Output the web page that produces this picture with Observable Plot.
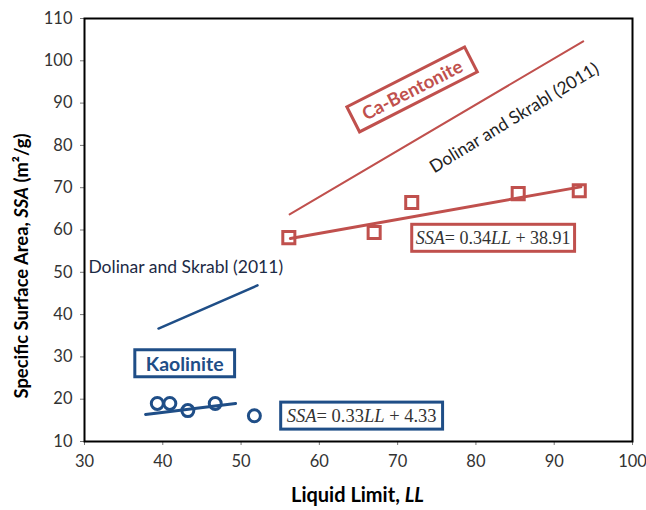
<!DOCTYPE html>
<html>
<head>
<meta charset="utf-8">
<script src="https://cdn.jsdelivr.net/npm/d3@7"></script>
<script src="https://cdn.jsdelivr.net/npm/@observablehq/plot@0.6"></script>
<style>
  body { margin: 0; background: #fff; }
  #chart { width: 646px; height: 510px; }
</style>
</head>
<body>
<div id="chart"></div>
<script>
// ---- data ----
const xTicks = [30, 40, 50, 60, 70, 80, 90, 100];
const yTicks = [10, 20, 30, 40, 50, 60, 70, 80, 90, 100, 110];

// Ca-Bentonite measurements
const caLL  = [56.1, 67.0, 71.8, 85.4, 93.2];
const caSSA = [58.2, 59.4, 66.5, 68.6, 69.3];
// Kaolinite measurements
const kaLL  = [39.3, 40.9, 43.2, 46.7, 51.7];
const kaSSA = [19.0, 19.0, 17.3, 19.0, 16.1];

// fitted lines (end points)
const caFitLL  = [56.3, 93.4];
const caFitSSA = [58.0, 70.2];
const kaFitLL  = [37.8, 49.3];
const kaFitSSA = [16.4, 19.0];

// Dolinar and Skrabl (2011) lines
const dolCaLL  = [56.2, 93.7];
const dolCaSSA = [63.7, 104.6];
const dolKaLL  = [39.45, 52.1];
const dolKaSSA = [36.7, 46.9];

// annotation texts
const labelCa   = "Ca-Bentonite";
const labelKa   = "Kaolinite";
const labelDol  = "Dolinar and Skrabl (2011)";
const eqCa      = "SSA= 0.34LL + 38.91";
const eqKa      = "SSA= 0.33LL + 4.33";

const RED = "#c0504d";
const BLUE = "#1f4e87";

const pts = (xs, ys) => xs.map((x, i) => ({LL: x, SSA: ys[i]}));

const W = 646, H = 510, mL = 84, mR = 14, mT = 18, mB = 69;

const chart = Plot.plot({
  width: W, height: H,
  marginLeft: mL, marginRight: mR, marginTop: mT, marginBottom: mB,
  style: {fontFamily: "Lato, sans-serif", fontSize: "16.5px", color: "#333", background: "#fff"},
  x: {domain: [30, 100], ticks: xTicks, label: null, tickSize: 4, tickPadding: 10},
  y: {domain: [10, 110], ticks: yTicks, label: null, tickSize: 4, tickPadding: 8},
  marks: [
    Plot.line(pts(dolCaLL, dolCaSSA), {x: "LL", y: "SSA", stroke: RED, strokeWidth: 2}),
    Plot.line(pts(dolKaLL, dolKaSSA), {x: "LL", y: "SSA", stroke: BLUE, strokeWidth: 2.5}),
    Plot.line(pts(caFitLL, caFitSSA), {x: "LL", y: "SSA", stroke: RED, strokeWidth: 3}),
    Plot.line(pts(kaFitLL, kaFitSSA), {x: "LL", y: "SSA", stroke: BLUE, strokeWidth: 3}),
    Plot.dot(pts(caLL, caSSA), {x: "LL", y: "SSA", symbol: "square", r: 6.8, stroke: RED, strokeWidth: 3, fill: "none"}),
    Plot.dot(pts(kaLL, kaSSA), {x: "LL", y: "SSA", symbol: "circle", r: 6, stroke: BLUE, strokeWidth: 3, fill: "none"}),
    Plot.text([labelCa], {x: () => 71.9, y: () => 93.0, text: d => d, rotate: -27, fill: RED, fontWeight: "bold", fontSize: 18.5, fontFamily: "Lato, sans-serif"}),
    Plot.text([labelDol], {x: () => 84.9, y: () => 86.5, text: d => d, rotate: -31.4, fill: "#222", fontSize: 17.5, fontFamily: "Lato, sans-serif"}),
    Plot.text([labelDol], {x: () => 30.5, y: () => 51.1, text: d => d, textAnchor: "start", fill: "#1c2a45", fontSize: 17.5, fontFamily: "Lato, sans-serif"}),
    Plot.text([labelKa], {x: () => 42.8, y: () => 28.2, text: d => d, fill: BLUE, fontWeight: "bold", fontSize: 19.5, fontFamily: "Lato, sans-serif"}),
    Plot.text([eqCa], {x: () => 82.2, y: () => 58.1, text: d => d, fill: "#333", fontSize: 18, fontFamily: "'Liberation Serif', serif"}),
    Plot.text([eqKa], {x: () => 65.4, y: () => 16.1, text: d => d, fill: "#333", fontSize: 18.5, fontFamily: "'Liberation Serif', serif"}),
    Plot.frame({stroke: "#000", strokeWidth: 2})
  ]
});

document.getElementById("chart").appendChild(chart);

const NS = "http://www.w3.org/2000/svg";
const svg = chart.tagName.toLowerCase() === "svg" ? chart : chart.querySelector("svg");

// tick colours
d3.select(svg).selectAll("g[aria-label$='tick'] path, g[aria-label$='tick']").attr("stroke", "#777");

function findText(str) {
  return [...svg.querySelectorAll("text")].find(t => t.textContent === str);
}
function richText(el, parts) {
  el.textContent = "";
  for (const [s, italic] of parts) {
    const ts = document.createElementNS(NS, "tspan");
    ts.textContent = s;
    if (italic) ts.setAttribute("font-style", "italic");
    el.appendChild(ts);
  }
}
function boxify(el, stroke, padX, padY) {
  const b = el.getBBox();
  const r = document.createElementNS(NS, "rect");
  r.setAttribute("x", b.x - padX);
  r.setAttribute("y", b.y - padY);
  r.setAttribute("width", b.width + 2 * padX);
  r.setAttribute("height", b.height + 2 * padY);
  r.setAttribute("fill", "#fff");
  r.setAttribute("stroke", stroke);
  r.setAttribute("stroke-width", 3);
  const tr = el.getAttribute("transform");
  if (tr) r.setAttribute("transform", tr);
  el.parentNode.insertBefore(r, el);
}

const tEqCa = findText(eqCa);
richText(tEqCa, [["SSA", true], ["= 0.34", false], ["LL", true], [" + 38.91", false]]);
boxify(tEqCa, RED, 4, 3.5);
const tEqKa = findText(eqKa);
richText(tEqKa, [["SSA", true], ["= 0.33", false], ["LL", true], [" + 4.33", false]]);
boxify(tEqKa, BLUE, 6, 3.5);
boxify(findText(labelKa), BLUE, 11, 2);
boxify(findText(labelCa), RED, 11, 3);

// axis titles
const sel = d3.select(svg);
const xt = sel.append("text")
  .attr("x", 357.5).attr("y", 502)
  .attr("text-anchor", "middle")
  .attr("font-family", "Lato, sans-serif").attr("font-size", 20).attr("font-weight", "bold").attr("fill", "#000");
xt.append("tspan").text("Liquid Limit, ");
xt.append("tspan").attr("font-style", "italic").text("LL");

const yt = sel.append("text")
  .attr("transform", `translate(28,266) rotate(-90)`)
  .attr("text-anchor", "middle")
  .attr("font-family", "Lato, sans-serif").attr("font-size", 18.4).attr("font-weight", "bold").attr("fill", "#000");
yt.append("tspan").text("Specific Surface Area, ");
yt.append("tspan").attr("font-style", "italic").text("SSA");
yt.append("tspan").text(" (m²/g)");
</script>
</body>
</html>
